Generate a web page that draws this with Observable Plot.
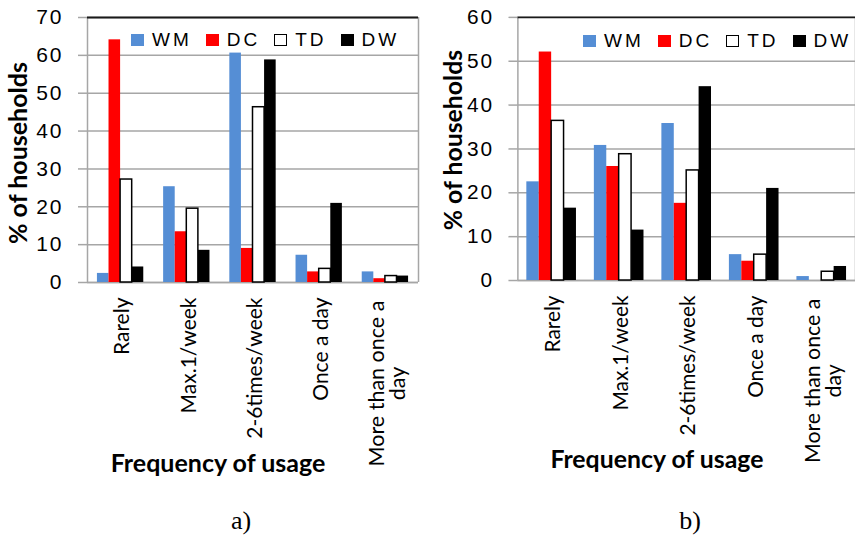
<!DOCTYPE html>
<html>
<head>
<meta charset="utf-8">
<script src="https://cdn.jsdelivr.net/npm/d3@7"></script>
<script src="https://cdn.jsdelivr.net/npm/@observablehq/plot@0.6"></script>
<style>
  html, body { margin: 0; padding: 0; background: #fff; overflow: hidden; }
  #fig { position: relative; width: 855px; height: 540px; overflow: hidden; background: #fff; }
  .panel { position: absolute; top: 0; }
  g[aria-label="y-axis tick label"] text { letter-spacing: 2px; }
  .legend { position: absolute; display: flex; align-items: center; white-space: nowrap;
            font-family: "Liberation Sans", Arial, sans-serif; font-size: 19px; letter-spacing: 3px;
            line-height: 20px; color: #000; }
  .legend .item { display: flex; align-items: center; margin-right: 14px; }
  .legend .sw { width: 13px; height: 12px; margin-right: 8px; box-sizing: border-box; }
  .caption { position: absolute; width: 100px; text-align: center; top: 506px; line-height: 30px;
             font-family: "Liberation Serif", "Times New Roman", serif; font-size: 26px; color: #000; }
</style>
</head>
<body>
<div id="fig">
  <div id="pa" class="panel" style="left:0px"></div>
  <div id="pb" class="panel" style="left:430px"></div>
</div>
<script>
// ---------- data ----------
const categories = ["Rarely", "Max.1/week", "2-6times/week", "Once a day", "More than once a day"];
const tickLabels = ["Rarely", "Max.1/week", "2-6times/week", "Once a day", "More than once a\nday"];
const series = ["WM", "DC", "TD", "DW"];
const seriesColors = ["#558ed5", "#ff0000", "#ffffff", "#000000"];

// panel a)
const aWM = [2.4, 25.3, 60.6, 7.2, 2.8];
const aDC = [64.1, 13.4, 9.0, 2.8, 1.0];
const aTD = [27.2, 19.5, 46.3, 3.6, 1.7];
const aDW = [4.1, 8.5, 58.8, 20.9, 1.7];
const aTicks = [0, 10, 20, 30, 40, 50, 60, 70];

// panel b)
const bWM = [22.5, 30.8, 35.8, 5.9, 0.9];
const bDC = [52.1, 26.0, 17.6, 4.4, 0];
const bTD = [36.4, 28.8, 25.1, 5.9, 2.0];
const bDW = [16.5, 11.5, 44.2, 21.0, 3.2];
const bTicks = [0, 10, 20, 30, 40, 50, 60];

const xTitle = "Frequency of usage";
const yTitle = "% of households";
const panelLabels = ["a)", "b)"];

// ---------- chart ----------
function chart({values, ticks, width, marginLeft, marginRight, groupWidth, xTitleDx, yTitleDx, yTitleDy}) {
  const rows = [];
  categories.forEach((c, i) => series.forEach((s, j) =>
    rows.push({category: c, ci: i, series: s, sj: j, value: values[j][i]})));
  const bw = groupWidth / series.length;
  const pad = (1 - groupWidth) / 2;
  const x1 = d => d.ci + pad + d.sj * bw;
  const x2 = d => d.ci + pad + (d.sj + 1) * bw;
  const labelRows = tickLabels.map((t, i) => ({t, i}));
  const single = labelRows.filter(d => !d.t.includes("\n"));
  const multi = labelRows.filter(d => d.t.includes("\n"));
  const ymax = d3.max(ticks);
  const grid = "#a6a6a6";
  return Plot.plot({
    width, height: 480,
    marginTop: 17, marginBottom: 198, marginLeft, marginRight,
    style: {background: "transparent", color: "#000", fontFamily: "Lato"},
    x: {domain: [0, categories.length], axis: null},
    y: {domain: [0, ymax]},
    color: {domain: series, range: seriesColors},
    marks: [
      Plot.gridY(ticks, {stroke: grid, strokeOpacity: 1, strokeWidth: 1.5}),
      Plot.ruleY([0], {stroke: grid, strokeWidth: 1.5}),
      Plot.ruleX([0, categories.length], {stroke: grid, strokeWidth: 1.5}),
      Plot.ruleY([ymax], {stroke: "#1a1a1a", strokeWidth: 1.8}),
      Plot.axisY(ticks, {tickSize: 9, tickPadding: 15, stroke: grid, strokeWidth: 1.5,
        fill: "#000", fontSize: 21, fontFamily: "Liberation Sans", label: null}),
      Plot.rect(rows, {x1, x2, y1: 0, y2: "value", fill: "series"}),
      Plot.rect(rows.filter(d => d.series === "TD"), {x1, x2, y1: 0, y2: "value",
        fill: "none", stroke: "#000", strokeWidth: 1.5}),
      Plot.text(single, {x: d => d.i + 0.5, frameAnchor: "bottom", dy: 15, dx: 2, rotate: -90,
        textAnchor: "end", lineAnchor: "middle", text: "t", fontSize: 21, fontFamily: "Lato", fill: "#000"}),
      Plot.text(multi, {x: d => d.i + 0.5, frameAnchor: "bottom", dy: 101, dx: 2, rotate: -90,
        textAnchor: "middle", lineAnchor: "middle", text: "t", fontSize: 21.5, fontFamily: "Lato", fill: "#000"}),
      Plot.text([xTitle], {text: d => d, frameAnchor: "bottom", dy: 181, dx: xTitleDx,
        textAnchor: "middle", lineAnchor: "middle",
        fontSize: 25, fontWeight: "bold", fontFamily: "Lato", fill: "#000"}),
      Plot.text([yTitle], {text: d => d, frameAnchor: "left", rotate: -90, dx: yTitleDx, dy: yTitleDy,
        textAnchor: "middle", lineAnchor: "middle",
        fontSize: 25, fontWeight: "bold", fontFamily: "Lato", fill: "#000"})
    ]
  });
}

function legend(left, top) {
  const el = document.createElement("div");
  el.className = "legend";
  el.style.left = left + "px";
  el.style.top = top + "px";
  series.forEach((s, j) => {
    const item = document.createElement("div");
    item.className = "item";
    const sw = document.createElement("span");
    sw.className = "sw";
    sw.style.background = seriesColors[j];
    if (s === "TD") sw.style.border = "1.5px solid #000";
    const lab = document.createElement("span");
    lab.textContent = s;
    item.append(sw, lab);
    el.append(item);
  });
  return el;
}

function caption(text, centerX) {
  const el = document.createElement("div");
  el.className = "caption";
  el.style.left = (centerX - 50) + "px";
  el.textContent = text;
  return el;
}

const fig = document.getElementById("fig");
document.getElementById("pa").append(chart({
  values: [aWM, aDC, aTD, aDW], ticks: aTicks, width: 425, marginLeft: 87, marginRight: 7,
  groupWidth: 0.70, xTitleDx: -35, yTitleDx: -69, yTitleDy: 3
}));
document.getElementById("pb").append(chart({
  values: [bWM, bDC, bTD, bDW], ticks: bTicks, width: 428, marginLeft: 88, marginRight: 0,
  groupWidth: 0.735, xTitleDx: -30, yTitleDx: -64, yTitleDy: -9
}));
fig.append(legend(131, 30), legend(583, 31));
fig.append(caption(panelLabels[0], 241), caption(panelLabels[1], 690));
</script>
</body>
</html>
